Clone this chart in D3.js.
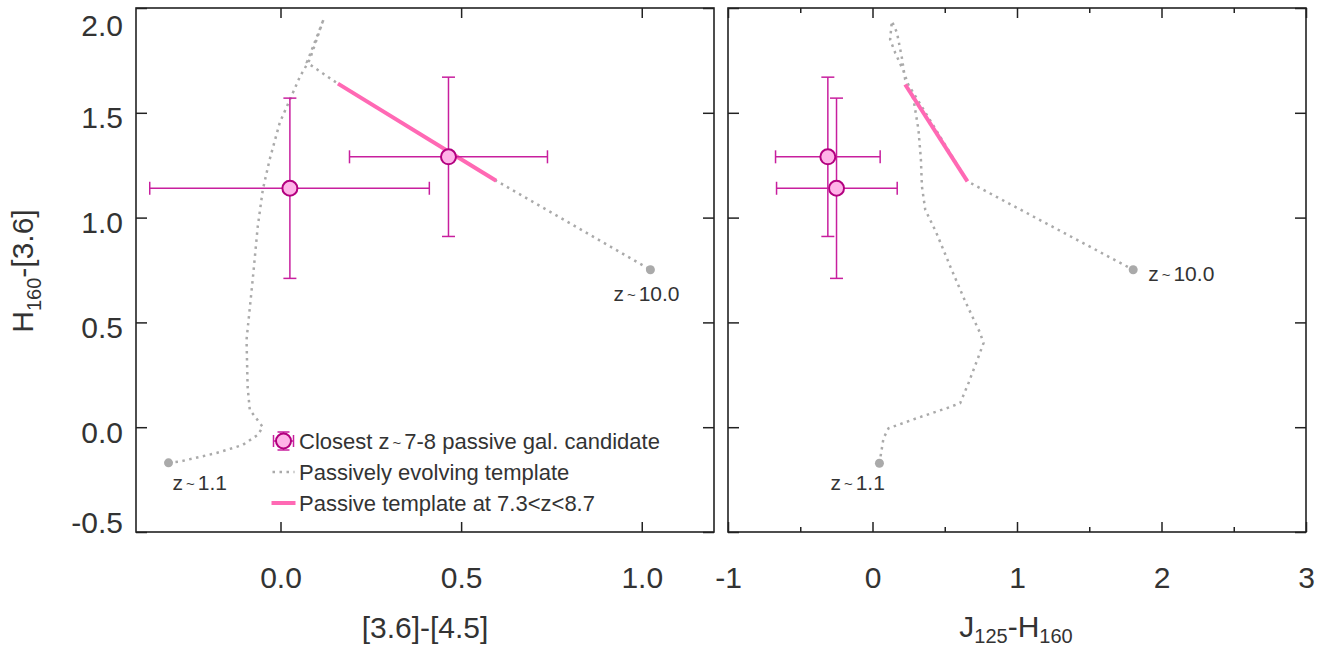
<!DOCTYPE html>
<html>
<head>
<meta charset="utf-8">
<script src="https://cdn.jsdelivr.net/npm/d3@7"></script>
<style>
  body { margin: 0; background: #fff; }
  text { font-family: "Liberation Sans", Arial, sans-serif; fill: #333; }
</style>
</head>
<body>
<script>
// tick values
var yTicks = [-0.5, 0, 0.5, 1, 1.5, 2];
var leftXTicks = [0, 0.5, 1];
var rightXTicks = [-1, 0, 1, 2, 3];
var rightMinorTicks = [-0.5, 0.5, 1.5, 2.5];

// candidates (H160-[3.6] vs [3.6]-[4.5] and J125-H160)
var candHI = [1.14, 1.29];
var candHIErrLo = [0.43, 0.38];
var candHIErrHi = [0.43, 0.38];
var candIRAC = [0.026, 0.465];
var candIRACErrLo = [0.388, 0.274];
var candIRACErrHi = [0.386, 0.274];
var candJH = [-0.249, -0.309];
var candJHErrLo = [0.415, 0.362];
var candJHErrHi = [0.42, 0.362];

// passively evolving template, left panel
var trackLeftX = [-0.310, -0.279, -0.177, -0.105, -0.063, -0.049, -0.085, -0.091, -0.094, -0.077, -0.063,
    -0.049, -0.030, -0.002, 0.026, 0.054, 0.081, 0.120, 0.103, 0.073, 0.159, 0.597, 1.024];
var trackLeftY = [-0.170, -0.164, -0.123, -0.085, -0.037, 0.001, 0.083, 0.192, 0.417, 0.703, 0.957,
    1.133, 1.277, 1.453, 1.563, 1.673, 1.754, 1.950, 1.873, 1.740, 1.639, 1.176, 0.751];

// passively evolving template, right panel
var trackRightX = [0.048, 0.076, 0.111, 0.307, 0.515, 0.607, 0.664, 0.734, 0.768, 0.745, 0.642, 0.538,
    0.441, 0.365, 0.342, 0.335, 0.318, 0.284, 0.215, 0.157, 0.122, 0.134, 0.169, 0.203, 0.226, 0.657, 1.804];
var trackRightY = [-0.172, -0.053, -0.005, 0.043, 0.091, 0.115, 0.210, 0.337, 0.401, 0.449, 0.600, 0.767,
    0.929, 1.038, 1.149, 1.277, 1.420, 1.563, 1.698, 1.787, 1.849, 1.937, 1.883, 1.764, 1.659, 1.173, 0.751];

// template at 7.3<z<8.7
var pinkLeftX = [0.159, 0.597];
var pinkLeftY = [1.639, 1.176];
var pinkRightX = [0.226, 0.657];
var pinkRightY = [1.635, 1.173];

var endLabels = ["z~1.1", "z~10.0"];

var top0 = 8, bottom0 = 532;
var errColor = "#c81f9e", dotStroke = "#b3007f", dotFill = "#ffb3e8",
    pinkColor = "#ff69b4", greyColor = "#aaaaaa";

var svg = d3.select("body").append("svg")
    .attr("width", 1326)
    .attr("height", 650);

var y = d3.scaleLinear().domain([-0.5, 2.0]).range([bottom0, top0]);
var xLeft = d3.scaleLinear().domain([-0.4, 1.2]).range([136, 714]);
var xRight = d3.scaleLinear().domain([-1, 3]).range([728, 1306]);

drawPanel(xLeft, leftXTicks, null, candIRAC, candIRACErrLo, candIRACErrHi,
    trackLeftX, trackLeftY, pinkLeftX, pinkLeftY, true);
drawPanel(xRight, rightXTicks, rightMinorTicks, candJH, candJHErrLo, candJHErrHi,
    trackRightX, trackRightY, pinkRightX, pinkRightY, false);

drawLegend();
drawTitles();

function drawPanel(x, xTicks, minorTicks, cx, cxLo, cxHi, tx, ty, px, py, isLeft) {
    var g = svg.append("g");
    var x0 = x.range()[0], x1 = x.range()[1];

    // ticks (inward)
    g.append("g").attr("transform", "translate(0," + bottom0 + ")")
        .call(d3.axisBottom(x).tickValues(xTicks).tickSize(-10).tickSizeOuter(0).tickPadding(35)
            .tickFormat(isLeft ? d3.format(".1f") : d3.format("d")));
    g.append("g").attr("transform", "translate(0," + top0 + ")")
        .call(d3.axisTop(x).tickValues(xTicks).tickSize(-10).tickSizeOuter(0).tickFormat(""));
    if (minorTicks) {
        g.append("g").attr("transform", "translate(0," + bottom0 + ")")
            .call(d3.axisBottom(x).tickValues(minorTicks).tickSize(-5).tickSizeOuter(0).tickFormat(""));
        g.append("g").attr("transform", "translate(0," + top0 + ")")
            .call(d3.axisTop(x).tickValues(minorTicks).tickSize(-5).tickSizeOuter(0).tickFormat(""));
    }
    var yl = g.append("g").attr("transform", "translate(" + x0 + ",0)")
        .call(d3.axisLeft(y).tickValues(yTicks).tickSize(-11).tickSizeOuter(0).tickPadding(13)
            .tickFormat(isLeft ? d3.format(".1f") : ""));
    g.append("g").attr("transform", "translate(" + x1 + ",0)")
        .call(d3.axisRight(y).tickValues(yTicks).tickSize(-11).tickSizeOuter(0).tickFormat(""));

    g.selectAll(".domain").remove();
    g.selectAll(".tick line").attr("stroke", "#222").attr("stroke-width", 1.5);
    g.selectAll(".tick text").style("font-size", "30px").attr("fill", "#333")
        .text(function() { return this.textContent.replace("−", "-"); });

    // keep edge labels inside the frame height
    yl.selectAll(".tick text")
        .attr("dy", null)
        .attr("y", function(d) {
            var b = Math.min(Math.max(y(d) + 15, top0 + 27), bottom0);
            return b - y(d);
        });

    // frame
    g.append("rect")
        .attr("x", x0).attr("y", top0)
        .attr("width", x1 - x0).attr("height", bottom0 - top0)
        .attr("fill", "none").attr("stroke", "#222").attr("stroke-width", 1.6);

    // template track
    var line = d3.line()
        .x(function(d, i) { return x(tx[i]); })
        .y(function(d, i) { return y(ty[i]); });
    g.append("path")
        .datum(tx)
        .attr("d", line)
        .attr("fill", "none")
        .attr("stroke", greyColor)
        .attr("stroke-width", 2.5)
        .attr("stroke-dasharray", "2.5,4.5");

    var last = tx.length - 1;
    g.selectAll(".endDot")
        .data([0, last])
        .enter().append("circle")
        .attr("cx", function(d) { return x(tx[d]); })
        .attr("cy", function(d) { return y(ty[d]); })
        .attr("r", 4.5)
        .attr("fill", greyColor);

    // z labels
    g.append("text")
        .attr("x", x(tx[0]) + (isLeft ? 4 : -49))
        .attr("y", y(ty[0]) + 27)
        .style("font-size", "21px")
        .call(zText, endLabels[0]);
    g.append("text")
        .attr("x", x(tx[last]) + (isLeft ? -37 : 15))
        .attr("y", y(ty[last]) + (isLeft ? 31 : 11))
        .style("font-size", "21px")
        .call(zText, endLabels[1]);

    // pink segment
    g.append("line")
        .attr("x1", x(px[0])).attr("y1", y(py[0]))
        .attr("x2", x(px[1])).attr("y2", y(py[1]))
        .attr("stroke", pinkColor)
        .attr("stroke-width", 4);

    // candidates with error bars
    var cand = g.selectAll(".cand")
        .data(cx)
        .enter().append("g")
        .attr("class", "cand");

    cand.each(function(d, i) {
        var c = d3.select(this);
        var xc = x(d), yc = y(candHI[i]);
        var xa = x(d - cxLo[i]), xb = x(d + cxHi[i]);
        var ya = y(candHI[i] - candHIErrLo[i]), yb = y(candHI[i] + candHIErrHi[i]);
        errorBars(c, xc, yc, xa, xb, ya, yb, 6.5);
        c.append("circle")
            .attr("cx", xc).attr("cy", yc).attr("r", 7.5)
            .attr("fill", dotFill).attr("stroke", dotStroke).attr("stroke-width", 2);
    });
}

function errorBars(c, xc, yc, xa, xb, ya, yb, cap) {
    var segs = [[xa, yc, xb, yc], [xc, ya, xc, yb],
        [xa, yc - cap, xa, yc + cap], [xb, yc - cap, xb, yc + cap],
        [xc - cap, ya, xc + cap, ya], [xc - cap, yb, xc + cap, yb]];
    c.selectAll(".err")
        .data(segs)
        .enter().append("line")
        .attr("class", "err")
        .attr("x1", function(s) { return s[0]; })
        .attr("y1", function(s) { return s[1]; })
        .attr("x2", function(s) { return s[2]; })
        .attr("y2", function(s) { return s[3]; })
        .attr("stroke", errColor)
        .attr("stroke-width", 1.5);
}

// draws "z~..." with a small tilde
function zText(sel, label) {
    var parts = label.split("~");
    sel.append("tspan").text(parts[0]);
    sel.append("tspan").attr("dx", 3).style("font-size", "15px").attr("dy", -1).text("~");
    sel.append("tspan").attr("dx", 3).attr("dy", 1).text(parts[1]);
}

function drawLegend() {
    var lg = svg.append("g").attr("class", "legend");
    var sx = 283.5, tx = 299;
    var rows = [441, 472, 503];

    // row 1: candidate symbol
    errorBars(lg, sx, rows[0], sx - 10, sx + 10, rows[0] - 9, rows[0] + 9, 6);
    lg.append("circle")
        .attr("cx", sx).attr("cy", rows[0]).attr("r", 7.5)
        .attr("fill", dotFill).attr("stroke", dotStroke).attr("stroke-width", 2);
    var t1 = lg.append("text").attr("x", tx).attr("y", rows[0] + 8).style("font-size", "22px");
    t1.append("tspan").text("Closest z");
    t1.append("tspan").attr("dx", 3).attr("dy", -1).style("font-size", "15px").text("~");
    t1.append("tspan").attr("dx", 3).attr("dy", 1).text("7-8 passive gal. candidate");

    // row 2: dotted template
    lg.append("line")
        .attr("x1", sx - 11).attr("x2", sx + 11)
        .attr("y1", rows[1]).attr("y2", rows[1])
        .attr("stroke", greyColor).attr("stroke-width", 2.5)
        .attr("stroke-dasharray", "2.5,4.5");
    lg.append("text").attr("x", tx).attr("y", rows[1] + 8).style("font-size", "22px")
        .text("Passively evolving template");

    // row 3: pink segment
    lg.append("line")
        .attr("x1", sx - 12).attr("x2", sx + 12)
        .attr("y1", rows[2]).attr("y2", rows[2])
        .attr("stroke", pinkColor).attr("stroke-width", 4);
    lg.append("text").attr("x", tx).attr("y", rows[2] + 8).style("font-size", "22px")
        .text("Passive template at 7.3<z<8.7");
}

function drawTitles() {
    // y title
    var yt = svg.append("text")
        .attr("transform", "translate(33,271) rotate(-90)")
        .attr("text-anchor", "middle")
        .style("font-size", "30px");
    yt.append("tspan").text("H");
    yt.append("tspan").attr("dy", 8).style("font-size", "20px").text("160");
    yt.append("tspan").attr("dy", -8).text("-[3.6]");

    svg.append("text")
        .attr("x", 425).attr("y", 638)
        .attr("text-anchor", "middle")
        .style("font-size", "30px")
        .text("[3.6]-[4.5]");

    var xt = svg.append("text")
        .attr("x", 1016).attr("y", 637)
        .attr("text-anchor", "middle")
        .style("font-size", "30px");
    xt.append("tspan").text("J");
    xt.append("tspan").attr("dy", 6).style("font-size", "20px").text("125");
    xt.append("tspan").attr("dy", -6).text("-H");
    xt.append("tspan").attr("dy", 6).style("font-size", "20px").text("160");
}
</script>
</body>
</html>
